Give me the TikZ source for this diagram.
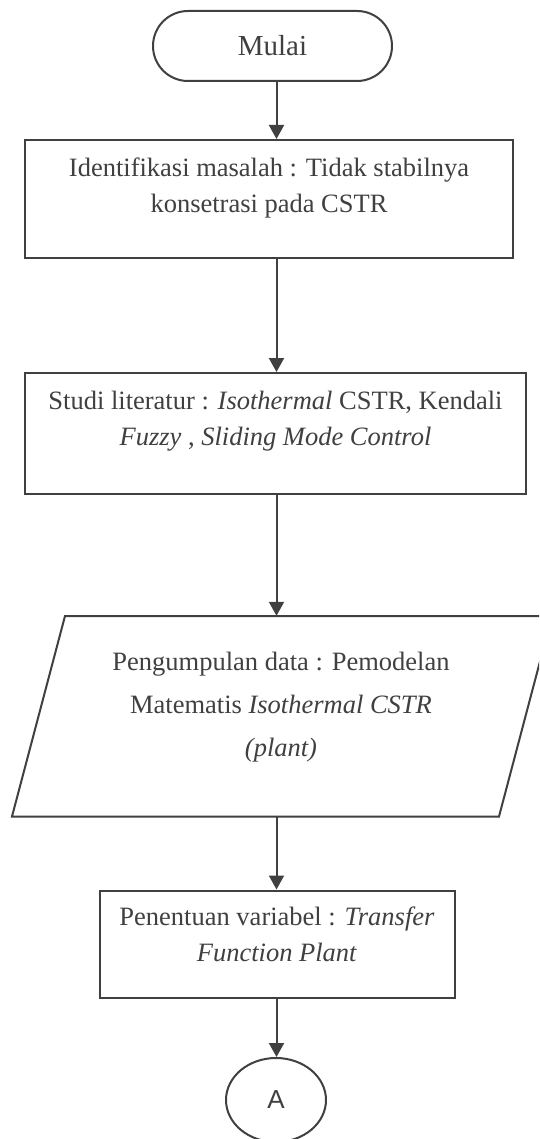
\documentclass[tikz,border=0pt]{standalone}
\usepackage{fontspec}
\setmainfont{Liberation Serif}
\newfontfamily\arialfont{Liberation Sans}
\usetikzlibrary{arrows.meta,shapes.misc,shapes.geometric,calc}
\definecolor{ln}{RGB}{64,64,64}
\definecolor{tx}{RGB}{64,64,64}
\begin{document}
\begin{tikzpicture}[x=1pt,y=-1pt,
  box/.style={draw=ln,line width=2pt,rectangle,inner sep=0pt},
  term/.style={draw=ln,line width=2pt,rounded rectangle,inner sep=0pt},
  txt/.style={text=tx,font=\fontsize{26.5}{36}\selectfont,align=center,inner sep=0pt},
  arr/.style={draw=ln,line width=2pt,-{Triangle[length=14pt,width=15pt]}}]
\useasboundingbox (0,0) rectangle (539,1139);
\fill[white] (0,0) rectangle (539,1139);
\clip (0,0) rectangle (539,1139);
\coordinate (ax) at (276.5,0);
% start
\node[term, minimum width=239pt, minimum height=70pt, txt, draw=ln, font=\fontsize{29}{34}\selectfont] (start) at (272.5,46) {Mulai};
% box 1
\node[box, minimum width=488pt, minimum height=118pt] (b1) at (269,199) {};
\node[txt, anchor=north] (t1) at (269,157.4) {Identifikasi masalah : Tidak stabilnya\\konsetrasi pada CSTR};
% box 2
\node[box, minimum width=501pt, minimum height=121pt] (b2) at (275.5,433.5) {};
\node[txt, anchor=north] (t2) at (275.5,391) {Studi literatur : \textit{Isothermal} CSTR, Kendali\\\textit{Fuzzy} , \textit{Sliding Mode Control}};
% parallelogram
\node[minimum width=434pt, minimum height=200.5pt, inner sep=0pt] (p) at (282,716.25) {};
\coordinate (ptl) at (65,616);
\coordinate (ptr) at (552,616);
\coordinate (pbr) at (499,816.5);
\coordinate (pbl) at (12,816.5);
\draw[ln, line width=2pt, line join=miter] (ptl) -- (ptr) -- (pbr) -- (pbl) -- cycle;
\node[txt, anchor=north, font=\fontsize{26.5}{43}\selectfont] (tp) at (281,652) {Pengumpulan data : Pemodelan\\Matematis \textit{Isothermal CSTR}\\\textit{(plant)}};
% box 3
\node[box, minimum width=355pt, minimum height=107pt] (b3) at (277.5,944) {};
\node[txt, anchor=north] (t3) at (277,907) {Penentuan variabel : \textit{Transfer}\\\textit{Function Plant}};
% connector A
\node[draw=ln, line width=2pt, ellipse, minimum width=100pt, minimum height=84pt, inner sep=0pt, text=tx, font=\arialfont\fontsize{26}{30}\selectfont] (A) at (276,1100) {A};
% arrows
\draw[arr] (start.south -| ax) -- (b1.north -| ax);
\draw[arr] (b1.south -| ax) -- (b2.north -| ax);
\draw[arr] (b2.south -| ax) -- (p.north -| ax);
\draw[arr] (p.south -| ax) -- (b3.north -| ax);
\draw[arr] (b3.south -| ax) -- (A.north -| ax);
\end{tikzpicture}
\end{document}
